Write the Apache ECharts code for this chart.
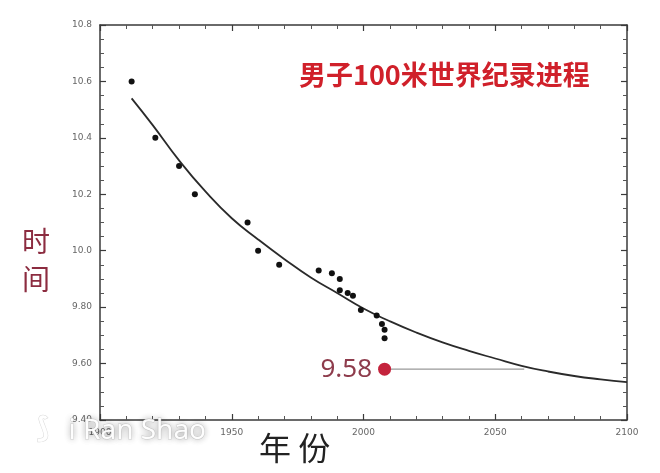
<!DOCTYPE html>
<html>
<head>
<meta charset="utf-8">
<script src="https://cdn.jsdelivr.net/npm/echarts@6/dist/echarts.min.js"></script>
<style>html,body{margin:0;padding:0;background:#fff}#c{width:660px;height:473px}</style>
</head>
<body>
<div id="c"></div>
<script>
// Record progression (year, time)
const recordYears = [1912, 1921, 1930, 1936, 1956, 1960, 1968, 1983, 1988, 1991, 1991, 1994, 1996, 1999, 2005, 2007, 2008, 2008];
const recordTimes = [10.6, 10.4, 10.3, 10.2, 10.1, 10.0, 9.95, 9.93, 9.92, 9.90, 9.86, 9.85, 9.84, 9.79, 9.77, 9.74, 9.72, 9.69];
// Fitted trend curve
const fitYears = [1912, 1920, 1930, 1940, 1950, 1960, 1970, 1980, 1990, 2000, 2010, 2020, 2030, 2040, 2050, 2060, 2070, 2080, 2090, 2100];
const fitTimes = [10.54, 10.445, 10.32, 10.21, 10.115, 10.04, 9.97, 9.905, 9.85, 9.795, 9.75, 9.71, 9.675, 9.645, 9.618, 9.592, 9.572, 9.556, 9.544, 9.534];
// Highlighted record and its reference line
const boltYear = [2008];
const boltTime = [9.58];
const refLineYears = [2008, 2061];
// Tick labels
const xTickValues = [1900, 1950, 2000, 2050, 2100];
const xTickLabels = ['1900', '1950', '2000', '2050', '2100'];
const yTickValues = [9.4, 9.6, 9.8, 10.0, 10.2, 10.4, 10.6, 10.8];
const yTickLabels = ['9.40', '9.60', '9.80', '10.0', '10.2', '10.4', '10.6', '10.8'];

const chart = echarts.init(document.getElementById('c'), null, {renderer: 'canvas'});
const axisLineStyle = {color: '#3a3a3a', width: 1.5};
function xFmt(v) { const i = xTickValues.indexOf(Math.round(v)); return i >= 0 ? xTickLabels[i] : ''; }
function yFmt(v) { const i = yTickValues.findIndex(t => Math.abs(t - v) < 1e-6); return i >= 0 ? yTickLabels[i] : ''; }
const baseX = {
  type: 'value', min: 1900, max: 2100, interval: 50,
  axisLine: {show: true, onZero: false, lineStyle: axisLineStyle},
  axisTick: {show: true, inside: true, length: 6, lineStyle: {color: '#3a3a3a', width: 1.2}},
  minorTick: {show: true, splitNumber: 5, length: 4, lineStyle: {color: '#555', width: 1}},
  splitLine: {show: false}
};
const baseY = {
  type: 'value', min: 9.4, max: 10.8, interval: 0.2,
  axisLine: {show: true, onZero: false, lineStyle: axisLineStyle},
  axisTick: {show: true, inside: true, length: 6, lineStyle: {color: '#3a3a3a', width: 1.2}},
  minorTick: {show: true, splitNumber: 4, length: 4, lineStyle: {color: '#555', width: 1}},
  splitLine: {show: false}
};
chart.setOption({
  animation: false,
  backgroundColor: '#fff',
  grid: {left: 100, top: 25, right: 33, bottom: 53},
  xAxis: [
    Object.assign({}, baseX, {position: 'bottom', axisLabel: {show: true, formatter: xFmt, color: '#666', fontSize: 9, margin: 8, fontFamily: 'DejaVu Sans'}}),
    Object.assign({}, baseX, {position: 'top', axisLabel: {show: false}})
  ],
  yAxis: [
    Object.assign({}, baseY, {position: 'left', axisLabel: {show: true, formatter: yFmt, color: '#666', fontSize: 9, margin: 8, fontFamily: 'DejaVu Sans'}}),
    Object.assign({}, baseY, {position: 'right', axisLabel: {show: false}})
  ],
  series: [
    {
      type: 'line', smooth: true, symbol: 'none',
      data: fitYears.map((y, i) => [y, fitTimes[i]]),
      lineStyle: {color: '#2a2a2a', width: 1.8}, z: 2
    },
    {
      type: 'scatter', symbolSize: 6,
      data: recordYears.map((y, i) => [y, recordTimes[i]]),
      itemStyle: {color: '#111', opacity: 1}, z: 3
    },
    {
      type: 'line', symbol: 'none',
      data: refLineYears.map(y => [y, boltTime[0]]),
      lineStyle: {color: '#999', width: 1.2}, z: 2
    },
    {
      type: 'scatter', symbolSize: 13,
      data: boltYear.map((y, i) => [y, boltTime[i]]),
      itemStyle: {color: '#c4233c', opacity: 1},
      label: {show: true, position: 'left', distance: 6, formatter: p => p.value[1].toFixed(2), fontSize: 26, color: '#8e3c4c', fontFamily: 'Noto Sans'},
      z: 4
    }
  ],
  graphic: [
    {type: 'text', left: 299, top: 61, style: {text: '男子100米世界纪录进程', fill: '#d0202a', font: 'bold 27px "Noto Sans CJK SC"'}},
    {type: 'text', left: 22, top: 222, style: {text: '时\n间', fill: '#8c2c40', font: '28px "Noto Sans CJK SC"', lineHeight: 38}},
    {type: 'text', left: 259, top: 432, style: {text: '年 份', fill: '#222', font: '32px "Noto Sans CJK SC"'}},
    {type: 'text', left: 68, top: 417, z: 100, style: {text: 'i Ran Shao', fill: 'rgba(255,255,255,0.95)', stroke: 'rgba(190,190,190,0.6)', lineWidth: 1, font: '28px "Noto Sans"', textShadowColor: 'rgba(0,0,0,0.3)', textShadowBlur: 6, shadowColor: 'rgba(0,0,0,0.3)', shadowBlur: 6}},
    {type: 'text', left: 36, top: 415, z: 100, style: {text: '⟆', fill: 'rgba(255,255,255,0.95)', stroke: 'rgba(190,190,190,0.6)', lineWidth: 1, font: 'bold 28px "DejaVu Sans"', shadowColor: 'rgba(0,0,0,0.3)', shadowBlur: 6}}
  ]
});
</script>
</body>
</html>
